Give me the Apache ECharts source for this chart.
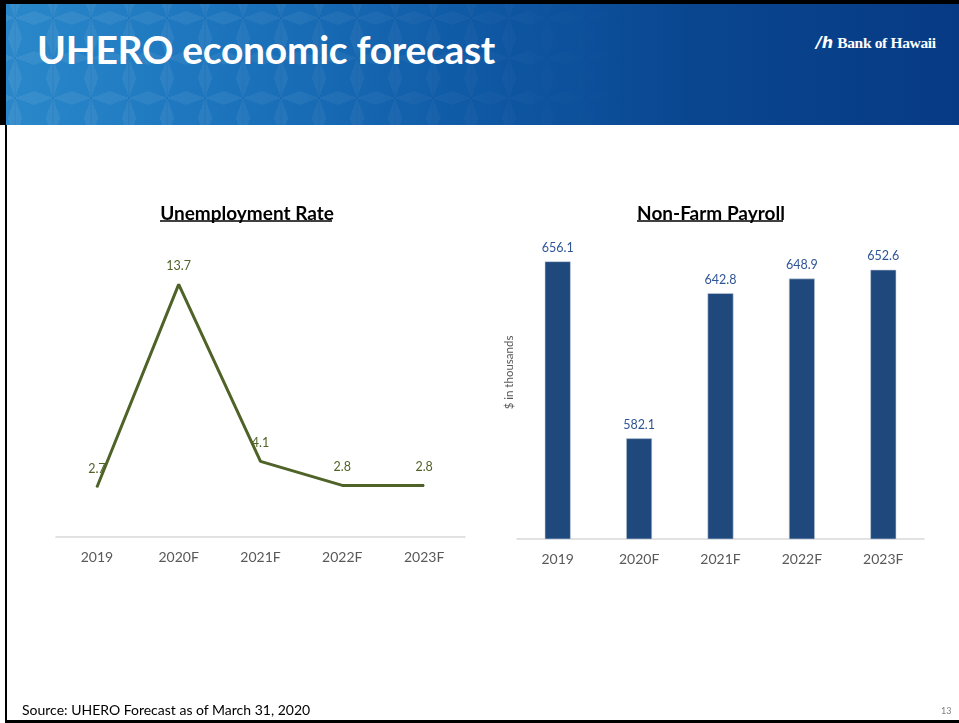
<!DOCTYPE html>
<html>
<head>
<meta charset="utf-8">
<script src="https://cdn.jsdelivr.net/npm/echarts@6/dist/echarts.min.js"></script>
<style>
  html, body { margin: 0; padding: 0; background: #fff; width: 959px; height: 723px; overflow: hidden; }
  #frameTop { position: absolute; left: 0; top: 0; width: 959px; height: 4px; background: #000; }
  #frameLeftTop { position: absolute; left: 0; top: 0; width: 6px; height: 125px; background: #000; }
  #frameLeft { position: absolute; left: 5px; top: 125px; width: 1.5px; height: 598px; background: #000; }
  #frameBottom { position: absolute; left: 5px; top: 720px; width: 954px; height: 3px; background: #000; }
  #banner { position: absolute; left: 6px; top: 4px; width: 953px; height: 121px;
    background: linear-gradient(90deg, #2a88ca 0%, #1b72bb 25%, #0f58a4 50%, #0a4690 72%, #073a84 100%); overflow: hidden; }
  #pattern { position: absolute; left: -10px; top: -6px; width: 110%; height: 120%;
    background-image:
      conic-gradient(from 0deg at 50% 50%, rgba(255,255,255,0.07) 0 20deg, transparent 20deg 70deg, rgba(255,255,255,0.07) 70deg 110deg, transparent 110deg 160deg, rgba(255,255,255,0.07) 160deg 200deg, transparent 200deg 250deg, rgba(255,255,255,0.07) 250deg 290deg, transparent 290deg 340deg, rgba(255,255,255,0.07) 340deg 360deg),
      linear-gradient(90deg, transparent 48%, rgba(0,40,100,0.10) 49% 51%, transparent 52%);
    background-size: 38px 40px;
    -webkit-mask-image: linear-gradient(90deg, #000 0%, rgba(0,0,0,0.75) 30%, transparent 62%);
    mask-image: linear-gradient(90deg, #000 0%, rgba(0,0,0,0.75) 30%, transparent 62%); }
  #title { position: absolute; left: 31px; top: 22px; color: #fff; font-family: Lato, "Open Sans", sans-serif;
    font-weight: 700; font-size: 39px; letter-spacing: -0.3px; white-space: nowrap; }
  #logo { position: absolute; left: 810px; top: 29px; color: #fff; white-space: nowrap; }
  #logo .mark { font-family: "DejaVu Sans", sans-serif; font-weight: 700; font-style: italic; font-size: 16px; margin-right: 4px; }
  #logo .name { font-family: "Liberation Serif", serif; font-weight: 700; font-size: 15.5px; letter-spacing: -0.35px; }
  #source { position: absolute; left: 22px; top: 701px; font-family: Lato, sans-serif; font-size: 14px; color: #000; white-space: nowrap; }
  #pageno { position: absolute; left: 941px; top: 705px; font-family: Lato, sans-serif; font-size: 9px; color: #7f7f7f; }
  #chart { position: absolute; left: 0; top: 0; width: 959px; height: 723px; }
</style>
</head>
<body>
<div id="banner"><div id="pattern"></div>
  <div id="title">UHERO economic forecast</div>
  <div id="logo"><span class="mark">/h</span><span class="name">Bank of Hawaii</span></div>
</div>
<div id="frameTop"></div>
<div id="frameLeftTop"></div>
<div id="frameLeft"></div>
<div id="frameBottom"></div>
<div id="chart"></div>
<div id="source">Source: UHERO Forecast as of March 31, 2020</div>
<div id="pageno">13</div>
<script>
const categories = ['2019', '2020F', '2021F', '2022F', '2023F'];
const unemploymentRate = [2.7, 13.7, 4.1, 2.8, 2.8];
const nonFarmPayroll = [656.1, 582.1, 642.8, 648.9, 652.6];
const leftTitle = 'Unemployment Rate';
const rightTitle = 'Non-Farm Payroll';
const rightAxisName = '$ in thousands';

const FONT = 'Lato, "Open Sans", sans-serif';
const chart = echarts.init(document.getElementById('chart'), null, { renderer: 'canvas' });

chart.setOption({
  backgroundColor: 'transparent',
  animation: false,
  title: [
    { text: leftTitle, left: 242, top: 199, textAlign: 'center',
      textStyle: { fontFamily: FONT, fontWeight: 'bold', fontSize: 19, color: '#000' } },
    { text: rightTitle, left: 706, top: 199, textAlign: 'center',
      textStyle: { fontFamily: FONT, fontWeight: 'bold', fontSize: 19, color: '#000' } }
  ],
  graphic: [
    { type: 'line', shape: { x1: 160, y1: 221, x2: 332, y2: 221 }, style: { stroke: '#000', lineWidth: 1.4 } },
    { type: 'line', shape: { x1: 637, y1: 221, x2: 783, y2: 221 }, style: { stroke: '#000', lineWidth: 1.4 } }
  ],
  grid: [
    { left: 56, top: 242, width: 409, height: 295 },
    { left: 517, top: 252, width: 407, height: 287 }
  ],
  xAxis: [
    { type: 'category', gridIndex: 0, data: categories, boundaryGap: true,
      axisLine: { lineStyle: { color: '#d9d9d9', width: 1.5 } }, axisTick: { show: false },
      axisLabel: { fontFamily: FONT, fontSize: 14, color: '#595959', margin: 13 } },
    { type: 'category', gridIndex: 1, data: categories, boundaryGap: true,
      axisLine: { lineStyle: { color: '#d9d9d9', width: 1.5 } }, axisTick: { show: false },
      axisLabel: { fontFamily: FONT, fontSize: 14, color: '#595959', margin: 13 } }
  ],
  yAxis: [
    { type: 'value', gridIndex: 0, min: 0, max: 16, show: false, splitLine: { show: false } },
    { type: 'value', gridIndex: 1, min: 540, max: 660, splitLine: { show: false },
      axisLine: { show: false }, axisTick: { show: false }, axisLabel: { show: false },
      name: rightAxisName, nameLocation: 'middle', nameRotate: 90, nameGap: 2,
      nameTextStyle: { fontFamily: FONT, fontSize: 11.5, color: '#595959', padding: [0, 0, 0, 46] } }
  ],
  series: [
    { type: 'line', xAxisIndex: 0, yAxisIndex: 0, data: unemploymentRate,
      symbol: 'circle', symbolSize: 1, itemStyle: { color: '#4f6228' },
      lineStyle: { color: '#4f6228', width: 3 },
      label: { show: true, position: 'top', distance: 11, fontFamily: FONT, fontSize: 12.5, color: '#4f6228' } },
    { type: 'bar', xAxisIndex: 1, yAxisIndex: 1, data: nonFarmPayroll, barWidth: 26,
      itemStyle: { color: '#1f497d', borderColor: '#c9d3e0', borderWidth: 0.6 },
      label: { show: true, position: 'top', distance: 7, fontFamily: FONT, fontSize: 12.5, color: '#2f5597' } }
  ]
});
</script>
</body>
</html>
